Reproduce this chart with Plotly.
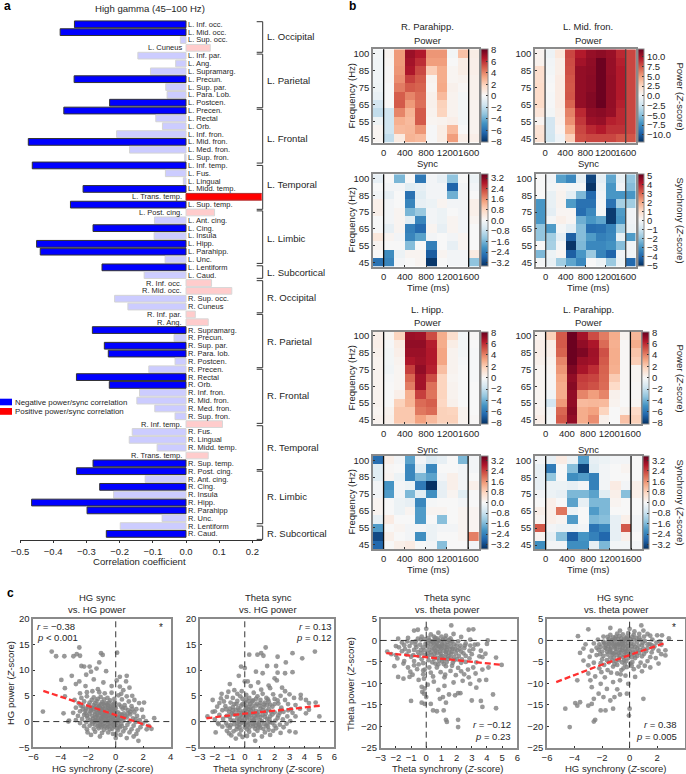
import plotly.graph_objects as go

W, H = 686, 774
FONT = "Liberation Sans"
INK = "#262626"

# ---------- panel a ----------
region_labels = ["L. Inf. occ.","L. Mid. occ.","L. Sup. occ.","L. Cuneus","L. Inf. par.","L. Ang.","L. Supramarg.","L. Precun.","L. Sup. par.","L. Para. Lob.","L. Postcen.",
 "L. Precen.","L. Rectal","L. Orb.","L. Inf. fron.","L. Mid. fron.","L. Med. fron.","L. Sup. fron.","L. Inf. temp.","L. Fus.","L. Lingual","L. Midd. temp.","L. Trans. temp.","L. Sup. temp.",
 "L. Post. cing.","L. Ant. cing.","L. Cing.","L. Insula","L. Hipp.","L. Parahipp.","L. Unc.","L. Lentiform","L. Caud.",
 "R. Inf. occ.","R. Mid. occ.","R. Sup. occ.","R. Cuneus","R. Inf. par.","R. Ang.","R. Supramarg.","R. Precun.","R. Sup. par.","R. Para. lob.","R. Postcen.",
 "R. Precen.","R. Rectal","R. Orb.","R. Inf. fron.","R. Mid. fron.","R. Med. fron.","R. Sup. fron.","R. Inf. temp.","R. Fus.","R. Lingual","R. Midd. temp.","R. Trans. temp.","R. Sup. temp.",
 "R. Post. cing.","R. Ant. cing.","R. Cing.","R. Insula","R. Hipp.","R. Parahipp","R. Unc.","R. Lentiform","R. Caud."]
region_r = [-0.336,-0.379,-0.017,0.073,-0.145,-0.031,-0.107,-0.337,-0.061,-0.057,-0.23,
 -0.368,-0.091,-0.071,-0.209,-0.475,-0.17,-0.004,-0.463,-0.062,-0.008,-0.31,0.264,-0.348,
 0.086,-0.095,-0.28,-0.096,-0.45,-0.439,-0.063,-0.253,-0.126,
 0.077,0.138,-0.215,-0.175,0.028,0.067,-0.282,-0.036,-0.246,-0.234,-0.033,
 -0.112,-0.33,-0.231,-0.14,-0.148,-0.094,-0.033,0.11,-0.162,-0.171,-0.087,0.067,-0.28,
 -0.33,-0.123,-0.26,-0.218,-0.465,-0.298,-0.072,-0.198,-0.24]
region_sig = [1,1,0,0,0,0,0,1,0,0,1, 1,0,0,0,1,0,0,1,0,0,1,1,1, 0,0,1,0,1,1,0,1,0,
 0,0,0,0,0,0,1,0,1,1,0, 0,1,1,0,0,0,0,0,0,0,0,0,1, 1,0,1,0,1,1,0,0,1]
group_names = ["L. Occipital","L. Parietal","L. Frontal","L. Temporal","L. Limbic","L. Subcortical",
               "R. Occipital","R. Parietal","R. Frontal","R. Temporal","R. Limbic","R. Subcortical"]
group_spans = [(-0.33,3.57),(3.8,10.64),(10.84,17.7),(18.0,23.6),(23.8,30.5),(30.8,32.4),
               (32.7,36.8),(37.0,43.8),(44.0,50.9),(51.2,56.8),(57.0,63.7),(64.0,65.7)]
group_label_y = [36.7,80.7,138,184.3,238.7,272.3,297.7,341.3,395.7,447.7,496.7,533.3]
bar_ticks = [-0.5,-0.4,-0.3,-0.2,-0.1,0.0,0.1,0.2]

# ---------- panel b ----------
time_centers = [-100,100,300,500,700,900,1100,1300,1500,1700]
time_ticks = [0,400,800,1200,1600]
freq_rows = list(range(11))
freq_tick_rows = [0,2,4,6,8,10]
freq_tick_text = ["100","85","75","65","55","45"]

r_para_power = [
 [-0.2,0.3,3.5,7,6.5,3.6,3.6,-0.2,2.4,0.6],
 [-0.3,0.2,3.5,6.8,6,3.4,3.4,0,0.6,0.5],
 [-0.3,0.1,3.6,6.6,5.4,2,3,0.2,0.6,0.5],
 [-0.3,0.1,3.8,5.6,5,0.3,3,0.2,0.3,0.4],
 [-0.4,0,4.2,5,4.8,0.2,3.1,0.4,0.1,0.4],
 [-0.6,0,4.9,4,4.6,0.4,2.6,0.3,-0.2,0.4],
 [-1.5,0,5,3.5,4.5,0.4,1.9,0.3,-0.2,0.3],
 [-2,-1.6,4,2.8,5,0.3,1.8,0.3,-0.2,0.3],
 [-0.4,-1.6,2.9,2.6,5,0.2,0.3,0.5,-0.2,0.3],
 [0.2,-1.6,2.6,2.7,3.6,-0.1,0.6,2.6,0,0.3],
 [0.2,-2,0.7,2.8,2.6,-0.1,0.6,3.4,0.5,0.5]]
l_midfron_power = [
 [0.4,-0.6,1.4,8,9.5,10.4,10.7,10.3,9,8],
 [0.5,-0.4,0.8,7.8,10,10.6,11.7,10.4,9.3,8],
 [2,-0.3,0.8,7.7,10.5,10.7,11.7,10.4,9.5,8],
 [2,-0.1,1,7.5,10.5,10.8,11.7,10.5,9.5,8],
 [2.2,0,1,7.4,10.5,10.8,11.7,10.5,9.5,8],
 [2.2,-0.1,1,7.5,10.5,11,11.7,10.5,9.5,8],
 [2.3,-0.1,1,7,10.5,11,11.8,10.5,9.3,8],
 [1.5,-0.3,0.8,6,9,10.6,10.8,10.4,9,8],
 [0.3,-2.2,0.6,5.5,8.5,10.2,10.4,9.3,9,8],
 [1.6,-2.2,0.3,4.4,8,9,9.5,8.7,8.7,8],
 [1.8,-2.3,-0.5,2.8,7.7,8,8,8,7.5,7.5]]
r_para_sync = [
 [-0.3,0,-1.6,0,-2.5,-0.1,-0.3,-1.4,0,-0.2],
 [0,-0.1,-0.1,-0.4,-0.3,-0.1,-0.1,-2.8,-0.1,-0.1],
 [-0.1,-0.3,0,-2.6,-0.4,-0.1,-0.1,-1.7,-0.1,0],
 [0.2,-0.1,0,-2.3,-0.3,-0.2,0.1,-0.1,-0.1,0.2],
 [0.2,-0.1,0.1,-1.6,-1.3,-0.1,-0.2,0,-0.1,0.2],
 [0,-0.1,0.1,-0.4,-2.3,-0.1,-0.2,0.1,-0.1,0.1],
 [0,-0.3,0.1,-2.4,-2.7,0.1,-0.3,0.1,-0.1,0],
 [0.4,0.1,-0.1,-2.3,-1.9,-0.1,0,-0.1,0.1,0],
 [0.1,0,0,-1.5,0,-2.4,0,-0.3,0.1,0],
 [0,-2.2,-0.2,0.1,0.1,-2.9,0.1,-0.1,-0.1,0.3],
 [-2.6,-2.3,-0.1,0,0.1,-3.4,0,-0.1,-0.1,-1.4]]
l_midfron_sync = [
 [0,-0.2,-2.8,-3.3,-0.5,-4.7,-0.5,-2.7,-0.4,-2],
 [0,-0.1,0.1,-0.1,-0.1,-5,-0.3,-3,-0.2,-2.2],
 [0,-0.4,0.2,-0.5,-2.3,-4,-0.2,-3,-3,-3],
 [-3,-0.4,0.2,-2.9,-3.8,-3.8,-0.1,-3.8,-1.7,-1.8],
 [-3,-0.5,0.1,0.1,-3.9,-3.3,-0.1,-4.9,-2.9,-0.2],
 [-3,-0.1,0.3,0.1,-2.5,-3,-2.7,-4.9,-3,-0.2],
 [-2,-2.9,-0.1,-0.5,-2.2,-3.9,-3.8,-3.4,-1.8,-0.3],
 [-2,-1.8,-0.5,-4.2,-2.2,-2.9,-3.5,-3.3,-0.4,-2.9],
 [0,-1.7,-0.1,-5,-2.3,-3.3,-3.3,-3.1,-2.2,-0.2],
 [-2.3,-0.3,0.1,-4.2,-3,-1.9,-3.4,-4.1,-0.2,-0.2],
 [-0.1,-0.4,-1.8,-2.7,-3.3,0,-0.3,-1.9,-0.3,-4]]
l_hipp_power = [
 [0.5,0.2,1.8,7,6.9,5.3,3,1.4,-0.2,0.1],
 [0.5,-0.1,0.7,7.2,7.2,6.4,3,0.6,-0.2,0],
 [0.4,-0.2,0.5,7,7,6.5,3.2,0.3,-0.2,-0.1],
 [0.3,-0.2,0.3,6.6,6.9,6.5,3.2,0.3,-0.1,-0.1],
 [0.3,-0.3,0.2,5.6,7.2,6.3,2.5,0.3,0,-0.1],
 [0.3,-0.1,0.2,4.7,6.8,5.3,1.8,0.2,0,-0.1],
 [0.3,0,0.2,4.2,6.8,4.5,1.8,0.3,0,0],
 [0.3,0,0.5,2.9,5.6,4.4,1.8,0.3,0,0],
 [0.3,0,1.9,2.8,4.6,4.9,1.7,0.4,0,0],
 [0.2,0.3,2.2,2.2,4.3,4.6,1.9,1.8,0.3,0],
 [0.3,0.4,2.2,2.2,3.3,2.6,1.9,1.9,0.3,0.1]]
l_para_power = [
 [0.3,1.9,5,8,6.8,5.3,4.2,3,0.3,2.7],
 [0.5,0.6,5,8,7.2,6.6,4.6,2.9,0.1,3],
 [0.5,0.5,4.8,8,7.6,6.9,5.2,3,0.1,2.3],
 [0.4,0.3,4,8,7,6.8,5,3,0.1,2],
 [0.2,0.2,3.6,7.6,6.7,6,4.8,2.9,0.1,0.2],
 [0.2,0.1,3.2,7.2,5.7,5.5,4.7,2.1,0.1,0.2],
 [0.2,0.1,3,7.4,5.5,5.2,4.6,1.6,0.1,0.1],
 [0.2,-0.3,3,7.2,4,3.4,4,0.4,0,0.1],
 [0.2,-1.5,3.5,7.2,2.6,2.7,2.6,0.3,0,0.2],
 [0.3,-0.3,4.7,7.4,3,3.3,1.8,0,0.3,1.6],
 [0.5,-0.2,5,7.2,3,3.8,0.4,0,2.4,1.9]]
l_hipp_sync = [
 [-2.7,0.2,-0.1,-1.9,-0.1,-0.5,-0.3,0,-1.6,-0.1],
 [-0.4,0.05,0,-2.3,-0.4,-2.3,0,0,-0.1,-0.1],
 [-0.4,0.1,-0.2,-2.3,-1.6,-1.9,-0.1,0.2,-0.1,0],
 [-0.1,-2.1,-0.1,-0.2,-2.5,-3.5,-0.3,0.2,-0.1,0.2],
 [-0.1,-2,-0.1,-1.6,-0.4,-2.2,-0.3,0.1,-0.4,0],
 [0.1,0,-0.2,-0.3,-2.3,-0.05,0,0,-0.1,0],
 [0.1,0,-0.2,0.1,-2,0.1,0.1,0,0.1,0.1],
 [-0.3,0.3,0,0,-2,0,-1.5,0,0.1,0.1],
 [-2,0,0.1,-0.1,-0.1,-0.2,-0.1,-0.1,0.1,0.1],
 [-3.2,0.2,0,-0.1,-2.2,-0.2,0,0,0.1,1.8],
 [-2.8,0,0.2,0.3,0,-0.1,-1.5,0,0,-0.1]]
l_para_sync = [
 [-0.1,-0.3,0.3,-0.2,-2,-0.3,-0.2,-0.1,-0.1,0],
 [-0.3,-2.5,0,-1.5,-3.3,-0.4,-0.1,0,0.1,0],
 [-0.3,-1.4,0,-2.2,-2,-2.4,-0.1,0,0,0],
 [-0.3,-0.2,-0.2,-0.3,-0.1,-2.4,-0.1,0.3,-0.1,0.2],
 [-0.1,-0.2,-0.3,-1.6,-1.6,-1.9,-0.4,0.2,-1.5,0.2],
 [0,0.2,0,-1.9,-0.3,-1.6,-1.6,0.1,0,0],
 [0.2,0.2,1.9,-0.2,0,-2,-1.6,0,0,0],
 [0.1,0.2,0.1,-2,0,-1.6,-1.5,-0.3,0.2,-0.1],
 [2.2,-0.1,-0.2,-0.2,-0.1,-2.6,-2.3,-0.3,2.2,-0.1],
 [0.1,-0.3,-1.5,-2.9,-2.1,-2.4,-2.8,-0.3,0.2,0],
 [-2.2,-0.1,-0.1,-2.2,-2.2,-0.3,-1.6,-0.1,-0.1,-0.1]]

ticks_8 = [-8,-6,-4,-2,0,2,4,6,8]
ticks_10 = [-10,-7.5,-5,-2.5,0,2.5,5,7.5,10]
ticks_32 = [-3.2,-2.4,-1.6,-0.8,0,0.8,1.6,2.4,3.2]
ticks_5 = [-5,-4,-3,-2,-1,0,1,2,3,4,5]

# ---------- panel c ----------
hgsync_hgpower = [(-4.66,13.6),(-4.34,12.7),(-3.74,12.7),(-3.08,12.7),(-2.84,13.1),(-2.65,14.4),(-2.6,12.8),(-1.07,13.3),(-0.95,12.95),(0.1,13.4),
 (-1.2,11.5),(-2.5,10.8),(-2.3,10.7),(-1.9,10.7),(-1.8,9.7),(-2.15,9.1),(-3.2,8.9),(-3.96,8.1),(-2.65,7.8),(-2.9,7.3),(-3.7,6.5),(-3.7,4.9),(-3.8,1.6),(-5.3,1.95),
 (-3.4,0.2),(-3.45,0),(0.3,8.7),(0.8,8.9),(0.75,7.8),(0.07,8),(0.3,6.8),(1.36,4.2),(1.7,3.6),(2.06,3.7),(1.9,2.3),(2.8,0.65),(2.4,-0.85),(2.6,-1.4),(1.65,-3.75),
 (0,-3.2),(0,-2.5),(-1.15,-2.9),(-1.8,-2.6),(-2.05,-2.1),(0.8,-3.2),(1.3,-2.9),(-1.4,10.3),(-0.7,9.8),(-1.6,8.2),(-0.9,7.6),(-2.2,6.9),(-1.3,6.3),(-0.3,6.9),(0.55,6.1),(1,6.6),(0.4,5.4),
 (-2.6,5.5),(-2.1,5.7),(-1.7,5.9),(-1.2,5.7),(-0.8,5.5),(-0.3,5.6),(0.2,5.1),(0.8,4.9),(1.2,5),(-3,4.2),(-2.5,4.6),(-2.1,4.9),(-1.6,4.7),(-1.1,4.8),(-0.6,4.6),(-0.1,4.4),(0.45,4.3),(0.95,3.9),
 (-2.7,3.6),(-2.3,3.9),(-1.9,3.7),(-1.4,4),(-1,3.8),(-0.5,3.7),(-0.15,3.5),(0.25,3.3),(0.65,3.2),(1.15,3),(1.5,2.4),(-2.9,2.7),(-2.4,3),(-2,2.8),(-1.6,3.2),(-1.2,3),(-0.8,3.1),(-0.35,2.9),(0,2.6),(0.5,2.5),(0.9,2.2),(1.35,1.8),
 (-3.1,1.7),(-2.6,2),(-2.2,2.1),(-1.8,2.3),(-1.4,2.2),(-1,2.4),(-0.65,2.2),(-0.2,2),(0.15,1.8),(0.6,1.6),(1.05,1.4),(1.55,1.1),(2,0.9),
 (-2.75,1.1),(-2.3,1.3),(-1.9,1.5),(-1.5,1.4),(-1.15,1.7),(-0.75,1.5),(-0.4,1.3),(-0.05,1.1),(0.35,1),(0.8,0.8),(1.25,0.6),(1.75,0.3),(2.2,0.1),
 (-2.9,0.3),(-2.45,0.5),(-2.05,0.7),(-1.65,0.6),(-1.3,0.8),(-0.95,0.9),(-0.55,0.7),(-0.2,0.5),(0.2,0.3),(0.55,0.2),(1,0),(1.45,-0.1),(1.95,-0.4),
 (-2.6,-0.3),(-2.15,-0.1),(-1.75,0),(-1.4,0.1),(-1.05,-0.1),(-0.7,0),(-0.35,-0.2),(0.05,-0.3),(0.4,-0.4),(0.85,-0.6),(1.3,-0.8),(1.8,-1.1),(2.25,-1.5),
 (-2.3,-0.9),(-1.9,-0.8),(-1.5,-0.6),(-1.15,-0.7),(-0.8,-0.9),(-0.45,-0.8),(-0.1,-1),(0.3,-1.1),(0.7,-1.3),(1.15,-1.5),(1.6,-1.7),(-2.1,-1.5),(-1.6,-1.4),(-1.25,-1.3),(-0.85,-1.6),(-0.4,-1.5),(0.15,-1.7),(0.55,-1.9),(1,-2.1),(1.5,-2.4),
 (-1.5,-2),(-1,-2.2),(-0.55,-2.1),(-0.2,-2.4),(0.35,-2.6),(-0.7,1),(-1,1.2),(-0.3,0.9),(-1.2,2.7),(-0.6,3.3),(-1.5,0.3),(-0.9,-0.4),(-0.1,0.1),(0.45,1.3),(-0.45,2.4),
 (-1.75,4.2),(-1.3,4.4),(-0.85,4.3),(-0.4,4.1),(-1.5,3.6),(-1.05,3.4),(-0.7,3.6),(-0.25,3.2),(-1.75,2.7),(-1.35,2.6),(-0.95,2.7),(-0.55,2.7),(-0.15,2.4),(-1.55,1.9),(-1.2,2),(-0.85,1.9),(-0.45,1.9),(-0.1,1.6),(0.3,1.5),(-1.35,1.2),(-0.85,1.2),(-0.55,1.2),(-0.2,0.8),(0.15,0.7),
 (-1.1,0.4),(-0.75,0.5),(-0.4,0.2),(0,0.1),(-1.2,-0.4),(-0.6,-0.5),(-0.25,-0.6),(0.2,-0.8),(-1.05,-1.1),(-0.65,-1.2),(-0.25,-1.4),(0.1,-1.3),(-1.85,0.3),(-2.1,1.1),(-1.7,-0.4),(0.55,0.7),(0.9,1.6),(-2.4,2.4),(-2.55,3.1),(1.2,2.4),
 (-1.25,3.3),(-0.9,3.5),(-0.55,3.1),(-0.3,2.5),(-0.05,2.9),(-1.45,2.9),(-1.1,2.4),(-0.75,2.5),(-0.35,2.2),(-1.65,2.5),(-1.3,1.6),(-1,1.6),(-0.65,1.6),(-0.3,1.5),(-0.05,2),(-1.7,1.1),(-1.45,0.8),(-1.05,0.7),(-0.85,0.6),(-0.5,0.5),(-0.15,0.3),(0.1,0.9),(0.4,0.6),(-1.55,0),
 (-1.2,0.2),(-0.95,0.1),(-0.55,0),(-0.1,-0.1),(0.25,0.1),(-1.3,-0.9),(-0.95,-0.8),(-0.55,-1),(-0.15,-0.8),(0.45,-0.9),(-1.85,2),(-2.15,2.5),(-1.95,3.2),(-2.2,1.6),(-0.05,3.7),(0.4,2.9),(0.7,2.6),(1.05,1.9),(0.7,1.1),(1.45,0.4)]
thsync_hgpower = [(1.4,14.4),(0.85,13),(0.3,13),(1.1,13.3),(1.25,12.8),(2.2,12.6),(3.2,13.3),(4.7,13.6),(3.85,12.3),(2.75,11.5),(1.5,10.8),(2.1,10.8),(-0.25,10.7),(0,10.4),(3.2,9.6),(2.7,9.4),(1.2,9.4),(0.75,9.7),(2.2,9.5),
 (-0.4,8.9),(2,8.4),(2.15,8),(0,7.8),(0.2,7.8),(-1,7.3),(3.75,5.2),(4.1,4.2),(4.3,3.6),(4.75,3.7),(3.75,4.5),(4.3,2.3),(4.1,1.6),(5,1),(3.4,1),(3,-1.9),(3.4,-2.1),(0.7,-3.75),(-0.6,-3.3),(-1.05,-2.3),(-1.95,-2.1),
 (-1.8,-0.3),(-2.15,1.9),(-2.5,1),(-2.15,4.2),(-1.55,5.4),(-1.6,4.5),(-1.7,3.6),(0.9,7.6),(1.6,7),(0.4,6.9),(1.7,6.5),(2.5,6.6),(2.7,5.9),(1.1,6.2),(-0.7,6.1),(-0.2,5.9),
 (-1.1,5.8),(-0.5,5.4),(0.1,5.2),(0.6,5.6),(1.2,5.4),(1.9,5.3),(2.4,5),(3,5.3),(-1.2,4.8),(-0.8,4.6),(-0.3,4.9),(0.3,4.6),(0.85,4.9),(1.45,4.6),(2,4.4),(2.7,4.2),(3.3,4.6),
 (-1.4,3.9),(-0.95,3.7),(-0.5,4),(0,3.8),(0.5,3.9),(1.05,3.6),(1.6,3.9),(2.25,3.5),(2.9,3.4),(3.4,3.2),(-1.85,2.9),(-1.3,3),(-0.8,2.8),(-0.25,3.1),(0.25,2.9),(0.75,3.1),(1.25,2.8),(1.85,2.9),(2.45,2.7),(3.1,2.4),(3.7,2.5),
 (-2,2),(-1.5,2.2),(-1.05,1.9),(-0.6,2.2),(-0.1,2),(0.4,2.2),(0.95,1.9),(1.45,2.1),(2,1.8),(2.6,1.9),(3.2,1.7),
 (-1.7,1.3),(-1.2,1.1),(-0.75,1.4),(-0.3,1.2),(0.15,1.4),(0.65,1.1),(1.2,1.3),(1.7,1),(2.25,1.2),(2.85,1),(-2,0.4),(-1.45,0.5),(-0.95,0.3),(-0.5,0.6),(0,0.4),(0.5,0.6),(1,0.3),(1.5,0.5),(2.05,0.2),(2.55,0.4),(3.05,0.1),
 (-1.75,-0.5),(-1.25,-0.3),(-0.7,-0.5),(-0.2,-0.2),(0.3,-0.4),(0.8,-0.2),(1.3,-0.5),(1.85,-0.3),(2.35,-0.6),(2.8,-0.4),(-1.5,-1),(-1,-1.2),(-0.5,-1),(0,-1.1),(0.55,-0.9),(1.05,-1.2),(1.55,-1),(2.1,-1.3),(2.6,-1.1),
 (-1.2,-1.8),(-0.75,-1.9),(-0.25,-1.7),(0.3,-2),(0.85,-1.8),(1.35,-2.1),(1.9,-1.8),(2.4,-2.2),(-0.9,-2.7),(-0.35,-2.5),(0.15,-2.8),(0.6,-2.6),(1.15,-2.9),(1.7,-2.6),(-0.15,-3),(0.35,1.6),(-0.4,0),(0.1,2.6),(-0.55,3.4),(1.3,3.3),(0.6,0),(1.7,-0.1),(-1,2.5),(0.8,1.5),(0,-0.5),
 (-0.7,3.4),(-0.15,3.4),(0.35,3.4),(0.8,3.5),(1.35,3.7),(-0.45,2.6),(0.05,2.3),(0.55,2.5),(1.05,2.5),(1.6,2.4),(-0.85,1.6),(-0.4,1.7),(0.15,1.9),(0.6,1.7),(1.05,0.9),(-0.2,0.8),(0.25,0.9),(0.75,0.7),(1.4,1.5),(-0.75,0.2),(-0.15,0.1),(0.35,0.1),(0.95,-0.4),(1.55,-0.3),
 (-0.95,-0.7),(-0.35,-0.6),(0.2,-0.7),(0.75,-0.8),(1.25,-1.4),(-0.55,-1.5),(0.15,-1.5),(0.7,-1.4),(1.6,-1.6),(0.25,3.9),(0.75,4.4),(1.55,4.3),(-0.15,4.4),
 (0.05,3.1),(0.5,3.1),(1,3.1),(1.5,3.2),(2,3.4),(0.05,1.1),(0.4,1.3),(0.9,1.2),(1.35,0.9),(1.85,1.4),(2.35,1.7),(-0.6,1.3),(-0.15,1.6),(0.3,2.4),(0.75,2.1),(1.2,2.2),(1.75,1.9),(-1,0.9),(-0.35,0.4),(0.15,0.7),(0.6,0.3),(1.15,0.1),(1.65,0.4),(2.2,0.7),
 (-1.15,-0.8),(-0.35,-1.1),(0.3,-1.2),(0.9,-1.1),(1.45,-0.8),(2,-0.8),(-0.5,-0.3),(0.1,-0.2),(0.55,-0.5),(1,-0.7),(-1.25,2.4),(-0.8,2.2),(-0.35,2.3),(2.4,2.2),(2.9,2.2),(0.55,4.1),(1.05,4.2),(1.7,3.3),(2.2,4.1),(0.1,4.3)]
thsync_thpower = [(-2.57,-2.6),(-1,-14.1),(-0.3,-14.5),(-0.1,-14.8),(-0.26,-12),(-0.15,-12.4),(0,-13.2),(0.3,-14.8),(0.45,-16.3),(0.7,-16.5),(0.9,-13.6),(1.1,-13.2),(1.3,-14.5),(1.15,-16.3),(1.3,-18.5),(1.36,-19),(2.1,-18.5),(2.1,-20.2),
 (1.9,-12.8),(2.1,-12.3),(2.25,-12.3),(3.6,-14.1),(3.7,-15.5),(4.4,-12.6),(4.6,-15.8),(3,-14),(1.5,-12.6),(4.05,0),(4,-0.8),(2.8,2.5),(3.1,2.6),(1.65,3.5),(0,2.7),(-0.8,2.3),(-0.55,2.5),(4.6,-4),(4.97,-5.7),(3.95,-9.2),(3.5,-9.3),(3.7,-3.9),
 (-1.85,-8.5),(-1.5,-8.9),(-1.1,-8.5),(-2.1,-6),(-1.5,-5.4),(-1.85,0.4),(-0.5,-9.2),(0.1,-10.3),(-0.3,-10.8),(0.5,-9.6),(1.2,-10.6),(1.8,-9.8),(2.4,-9.4),(2.9,-10.1),(3.3,-11),(0.8,-11.5),(-0.1,-11.2),
 (-2.3,-3.2),(-2,-1.3),(-1.6,-0.5),(-1.2,0.6),(-1.6,-2.5),(-1.1,-1.3),(-0.7,-0.2),(-0.3,0.9),(0.3,1.4),(0.8,1.8),(1.3,1.1),(1.8,1.5),(2.3,0.8),(2.9,0.2),(3.4,-0.9),
 (-1.9,-4.2),(-1.3,-3.3),(-0.8,-2.2),(-0.4,-1),(0.2,0),(0.6,0.6),(1.1,0.2),(1.6,0.5),(2.1,-0.2),(2.6,-0.7),(3.1,-2),(3.6,-2.4),(-1.2,-6.3),(-0.8,-4.8),(-0.5,-3.6),(-0.1,-2.3),(0.3,-0.9),(0.7,-0.4),(1.2,-0.7),(1.6,-0.6),(2,-1.2),(2.5,-1.8),(3,-3.2),(3.5,-3.7),
 (-0.6,-6.7),(-0.2,-5.3),(0.1,-3.7),(0.5,-2),(0.85,-1.4),(1.25,-1.7),(1.65,-1.5),(2.05,-2.3),(2.45,-3),(2.85,-4.2),(3.3,-5.1),(-0.9,-8),(-0.2,-7.9),(0.2,-6.3),(0.55,-3.9),(0.9,-2.6),(1.3,-2.7),(1.7,-2.6),(2.15,-3.6),(2.6,-5),(3.1,-6.3),(3.7,-6.8),
 (0.45,-8.4),(0.8,-5.6),(1.05,-3.6),(1.45,-3.7),(1.85,-3.9),(2.3,-5.2),(2.75,-6.8),(3.25,-7.7),(0.95,-7.4),(1.35,-5),(1.75,-5.2),(2.1,-6.4),(2.5,-7.9),(1.2,-8.6),(1.6,-7.1),(1.95,-8.1),(-1.4,-2),(-1,-3.8),(-0.3,-4.4),(0.3,-2.8),(0.65,-1.3),(1,-1.9),(1.4,-0.3),(0.1,-1.4),(-0.7,-1),(-1.8,-1.6),(-2,-3.4),(-0.35,0.2),(0.7,-3),(1.15,-4.4),(2.55,-1.2),(3.9,-3.1),(-1.05,-7.3),(-0.15,-8.9),(2.8,-8.6),(4.1,-6.3),
 (0.75,-1),(1.05,-0.9),(1.4,-1.1),(0.45,-0.5),(0.95,-0.2),(1.5,0.1),(0.6,-2.4),(0.95,-3.1),(1.3,-3.2),(1.65,-3.1),(0.35,-3.4),(0.75,-4.1),(1.05,-4.9),(1.45,-4.3),(1.85,-4.6),(0.4,-5.1),(0.7,-6.3),(1.3,-6),(1.7,-5.9),(2.35,-4.4),(0.1,-0.5),(-0.2,-1.6),(-0.55,-2.7),(-0.85,-3.4),(-1.15,-2.5),(-1.45,-1.1),
 (1.85,-0.9),(2.25,-1.2),(2.3,-2.6),(1.95,-3),(0.15,-4.6),(-0.1,-6.8),(-0.5,-5.6),(2.9,-1.2),(1.55,-2),(1.05,-1.2),(0.5,0.9),(1,0.9),(-0.1,0.3),(1.25,-8),(2.3,-7.2),
 (0.8,0),(1.25,0.4),(0.55,-1),(0.95,-1.6),(1.35,-2.2),(1.75,-1.9),(0.4,-1.7),(0.75,-2),(1.15,-2.4),(1.5,-2.9),(0.2,-2.2),(0.55,-3),(0.95,-3.7),(1.25,-4),(0.1,-3),(0.5,-4.3),(0.85,-4.7),(-0.05,-3.4),(-0.35,-2.2),(-0.65,-1.6),(0.15,0.6),(0.55,0),(1.7,-0.2),(2.2,-1.9),
 (-0.95,-0.5),(-1.25,-0.2),(-0.55,0.4),(-0.05,-0.8),(0.35,-0.2),(0.75,0.4),(1.35,-1.5),(1.9,-2),(1.6,-4),(1.15,-5.5),(0.6,-5.4),(2.05,-4.4),(2.6,-3.6),(2.85,-2.4),(-0.3,-3),(-0.8,-5.8),(-1.45,-4.8),(-0.2,-7),(3.2,-1),(0.3,-7.5)]
hgsync_thpower = [(-3,2.6),(-3.75,1),(-3.35,-1.9),(-3.2,-0.9),(-3.35,-4.7),(-3,-5.8),(-4.67,-15.9),(-4.35,-20.2),(-3.95,-14.6),(-3.8,-15.2),(-3.6,-14.4),(-3,-15.2),(-2.6,-18.9),(-2.5,-18.5),(-2.75,-14.8),(-2.1,-16.3),(-1.75,-16.3),(-1.9,-13.2),(-1.2,-15.9),(-0.7,-12.6),(-0.2,-12.4),
 (0,-15.9),(-0.05,-17.5),(1,-13.6),(2.85,0.5),(2.6,-3.5),(2.6,-2.3),(0.85,3.5),(0,2.7),(-0.7,2.3),(-1.4,2.9),(1,2.3),(2,1.2),(2.35,1.2),(-3.8,-9.3),(-2.85,-9.3),(-2.75,-10.9),(-2.6,-13.6),(-2.25,-12.4),(-1.65,-11.3),(-0.9,-11.4),(-1.1,-13.2),(-1.4,-14),(-0.7,-9.3),(-0.1,-10.1),(-2.1,-10.1),
 (-3,-7.7),(-2.5,-8.4),(-1.8,-8.6),(-1.2,-9.7),(-0.3,-8.2),(0.4,-8.5),(0.9,-7.2),(1.5,-6.3),(2.1,-5.4),(-2.6,-5.2),(-2.2,-6.5),(-1.6,-6.9),(-0.9,-7.7),(-0.2,-6.2),(0.3,-6.7),(0.8,-5.2),(1.3,-4.8),(1.9,-4.1),(2.3,-3.2),
 (-2.4,-3.4),(-2.75,-2.4),(-2,-4.4),(-1.5,-5.1),(-0.9,-5.7),(-0.4,-4.6),(0.2,-5),(0.55,-3.6),(1.05,-3.1),(1.6,-2.8),(2.1,-2.4),(-2.4,-1.7),(-2,-2.6),(-1.6,-3.3),(-1.15,-4),(-0.7,-3.6),(-0.2,-3.2),(0.25,-2.9),(0.75,-2.2),(1.3,-1.8),(1.8,-1.4),(2.3,-1),
 (-2.6,-0.7),(-2.2,-0.9),(-1.8,-1.7),(-1.4,-2.1),(-1,-2.7),(-0.55,-2.3),(-0.1,-1.9),(0.4,-1.5),(0.9,-1.1),(1.45,-0.8),(1.95,-0.5),(-2.3,0.2),(-1.9,-0.3),(-1.5,-0.8),(-1.1,-1.4),(-0.7,-1.5),(-0.3,-1),(0.1,-0.7),(0.55,-0.3),(1.1,-0.1),(1.65,0.2),(2.2,-0.2),
 (-1.9,0.9),(-1.5,0.3),(-1.1,-0.2),(-0.75,-0.6),(-0.35,-0.1),(0.05,0.3),(0.5,0.6),(1.05,0.9),(1.5,1.1),(-1.4,1.3),(-1,0.9),(-0.6,0.5),(-0.2,0.9),(0.3,1.3),(0.7,1.5),(1.3,1.5),(-0.9,1.6),(-0.5,1.4),(-0.1,1.7),(0.35,2.1),(-1.25,-3.3),(-0.8,-4.6),(-0.35,-5.6),(-1.55,-1.4),(-1.3,-0.7),(-0.5,-1.7),(-0.95,-2),(-0.25,-2.5),(0.15,-3.9),(0.65,-1.2),(-1.85,-5.7),(-1.35,-7.5),(-0.6,-6.9),(1.5,-3.9),(-2.9,-3.8),(-3.6,-2.9),
 (-1.6,0.8),(-1.25,0.1),(-0.9,-0.8),(-0.55,-0.2),(-0.15,0.2),(0.3,0.2),(-1.75,-1),(-1.35,-1.7),(-1,-1.1),(-0.65,-2.8),(-0.3,-2),(0.15,-1.4),(0.55,-1.9),(-1.65,-2.6),(-1.3,-2.8),(-0.95,-3.4),(-0.45,-3.9),(0,-2.6),(0.45,-2.6),(1,-1.9),(-1.9,-3.6),(-1.4,-4),(-1,-4.8),(-0.55,-5.1),(-0.1,-4.1),(0.4,-4.1),
 (0.9,-3.7),(-2.1,-1.5),(-2.25,-2.2),(-1.05,0.4),(-0.4,0.4),(0.8,0.1),(1.3,-0.9),(0.05,-5.4),(0.65,-6.1),(-1.2,-6.1),(-0.65,-7.9),(1.1,-5.9),(-2.05,-7.4),(1.7,-1.9),
 (-1.2,-0.9),(-0.8,-1),(-0.45,-1.2),(-0.1,-0.6),(0.3,-0.9),(-1.55,-0.3),(-1.2,0.7),(-0.85,0.3),(-0.5,-0.6),(-0.15,-1.4),(0.2,-2.1),(-1.05,-1.9),(-0.7,-2.2),(-0.35,-2.7),(0,-3.3),(-1.45,-2.6),(-1.15,-3),(-0.8,-3),(-0.4,-3.4),(-1.7,-1.9),(-1.85,-0.7),(-0.75,1),(-0.25,0.5),(0.2,0.8),
 (0.7,0.6),(-1.25,-4.7),(-0.75,-4.1),(-0.25,-4.8),(0.35,-3.4),(0.7,-2.9),(1.2,-2.5),(-1.65,-4.6),(-2.15,-3.2),(-2.1,-5.3),(-1.1,-5.5),(-0.45,-6.5),(0.15,-5.9),(1.6,-1.1),(0.95,-0.6),(-0.6,-0.9)]
trend_hg_hg_x = [-5.27,-3.09,0,2.74]
trend_hg_hg_y = [5.96,4.0,1.3,-1.17]
trend_th_hg_x = [-2.57,0,2.97,5.09]
trend_th_hg_y = [0.65,1.55,2.4,3.1]
trend_th_th_x = [-2.63,0,2.63,4.93]
trend_th_th_y = [-2.95,-3.9,-4.8,-5.67]
trend_hg_th_x = [-5.33,-2.37,0,2.6]
trend_hg_th_y = [-9.7,-6.06,-3.4,-0.55]

# ---------- helpers ----------
def fx(px): return px / W
def fy(py): return 1 - py / H

annotations, shapes, traces = [], [], []
layout = {}
axis_n = [0]

def txt(px, py, text, size=9.5, anchor="center", angle=0, bold=False, color=INK):
    annotations.append(dict(x=fx(px), y=fy(py), xref="paper", yref="paper", text=f"<b>{text}</b>" if bold else text,
        showarrow=False, xanchor=anchor, yanchor="middle", textangle=angle,
        font=dict(family=FONT, size=size, color=color), borderpad=0, borderwidth=0))

def new_axes(left, right, top, bottom, xopt, yopt):
    axis_n[0] += 1
    n = axis_n[0]
    s = "" if n == 1 else str(n)
    layout[f"xaxis{s}"] = dict(domain=[fx(left), fx(right)], anchor=f"y{s}", **xopt)
    layout[f"yaxis{s}"] = dict(domain=[fy(bottom), fy(top)], anchor=f"x{s}", **yopt)
    return f"x{s}", f"y{s}"

tickfont = dict(family=FONT, size=9.5, color=INK)

# ---------- draw a ----------
px_per_unit = 332.0
zero_px = 186.0
row0, row_h = 24.3, 7.84
bar_left, bar_right, bar_top, bar_bottom = 19.9, 261.7, 20.0, 540.3
xa, ya = new_axes(bar_left, bar_right, bar_top, bar_bottom,
    dict(range=[(bar_left-zero_px)/px_per_unit, (bar_right-zero_px)/px_per_unit],
         tickmode="array", tickvals=bar_ticks, ticktext=[f"{v:.1f}".replace("-", "\u2212") for v in bar_ticks],
         ticks="outside", ticklen=2, tickcolor="#333", showline=True, linecolor="#333", linewidth=1, showgrid=False, zeroline=False, tickfont=tickfont, tickangle=0),
    dict(range=[(bar_bottom-row0)/row_h, (bar_top-row0)/row_h], visible=False, showgrid=False, zeroline=False))
rows = list(range(len(region_labels)))
fill = []
edge = []
for r, s in zip(region_r, region_sig):
    if r < 0:
        fill.append("#0000ff" if s else "#ccccff"); edge.append("#333333" if s else "#d4d4d4")
    else:
        fill.append("#ff0000" if s else "#ffcccc"); edge.append("#b03030" if s else "#d8d8d8")
traces.append(go.Bar(x=region_r, y=rows, orientation="h", width=0.86, marker=dict(color=fill, line=dict(color=edge, width=1)),
                     cliponaxis=False, xaxis=xa, yaxis=ya, showlegend=False))
for i, (lab, r) in enumerate(zip(region_labels, region_r)):
    py = row0 + row_h * i
    if r < 0:
        txt(zero_px + 1.5, py, lab, 7.5, "left")
    else:
        txt(zero_px - 4, py, lab, 7.5, "right")
for (a, b), name, ly in zip(group_spans, group_names, group_label_y):
    for path in ([(256.7, a), (262.7, a)], [(262.7, a), (262.7, b)], [(262.7, b), (256.7, b)]):
        shapes.append(dict(type="line", xref="paper", yref=ya, x0=fx(path[0][0]), x1=fx(path[1][0]), y0=path[0][1], y1=path[1][1],
                           line=dict(color="#333", width=1)))
    txt(266.7, ly, name, 9.6, "left")
txt(150, 8.7, "High gamma (45\u2013100 Hz)", 9.6)
txt(139, 561, "Correlation coefficient", 9.6)
txt(4, 6.5, "a", 12, "left", bold=True, color="#000")
txt(349, 6.5, "b", 12, "left", bold=True, color="#000")
txt(7, 593, "c", 12, "left", bold=True, color="#000")
for py0, py1, c, t in [(398.7, 405.3, "#0000ff", "Negative power/sync correlation"), (408.0, 414.8, "#ff0000", "Positive power/sync correlation")]:
    shapes.append(dict(type="rect", xref="paper", yref="paper", x0=0, x1=fx(12), y0=fy(py1), y1=fy(py0), fillcolor=c, line=dict(width=0)))
    txt(15, (py0+py1)/2, t, 7.9, "left")

# ---------- draw b ----------
scale = [[0,"#053061"],[0.1,"#2166ac"],[0.2,"#4393c3"],[0.3,"#92c5de"],[0.4,"#d1e5f0"],[0.5,"#f7f7f7"],
         [0.6,"#fddbc7"],[0.7,"#f4a582"],[0.8,"#d6604d"],[0.9,"#b2182b"],[1,"#67001f"]]

def heat(z, left, right, top, bottom, cb_left, cb_right, zlim, cticks, cfmt, line_col):
    xa, ya = new_axes(left, right, top, bottom,
        dict(range=[-200,1800], tickmode="array", tickvals=time_ticks, ticktext=[str(t) for t in time_ticks], ticks="inside", ticklen=2, tickcolor="#333",
             showline=True, linecolor="#8a8a8a", linewidth=1.5, mirror=True, showgrid=False, zeroline=False, tickfont=tickfont, tickangle=0),
        dict(range=[10.5,-0.5], tickmode="array", tickvals=freq_tick_rows, ticktext=freq_tick_text, ticks="inside", ticklen=2, tickcolor="#333",
             showline=True, linecolor="#8a8a8a", linewidth=1.5, mirror=True, showgrid=False, zeroline=False, tickfont=tickfont))
    traces.append(go.Heatmap(z=z, x=time_centers, y=freq_rows, xaxis=xa, yaxis=ya, zmin=-zlim, zmax=zlim, colorscale=scale, xgap=0, ygap=0,
        colorbar=dict(x=fx(cb_left), xanchor="left", y=fy(top), yanchor="top", len=(bottom-top)/H, lenmode="fraction", thickness=cb_right-cb_left, thicknessmode="pixels",
                      xpad=0, ypad=0, outlinecolor="#8a8a8a", outlinewidth=1, ticks="inside", ticklen=2, tickcolor="#333", tickmode="array", tickvals=cticks,
                      ticktext=[cfmt(v).replace("-", "\u2212") for v in cticks], tickfont=tickfont)))
    for t in (0, 1600):
        shapes.append(dict(type="line", xref=xa, yref=f"{ya} domain", x0=t, x1=t, y0=0, y1=1, line=dict(color=line_col, width=1.3), layer="above"))

f1 = lambda v: f"{v:.1f}"
fi = lambda v: f"{v:.0f}"
heat(r_para_power, 373,479.3, 49.3,142.7, 481,487.7, 8.1, ticks_8, fi, "#111")
heat(l_midfron_power, 535,635.8, 49.3,142.7, 638.3,644, 11.9, ticks_10, f1, "#444")
heat(r_para_sync, 373,479.3, 174.3,266.7, 481,487.7, 3.48, ticks_32, f1, "#111")
heat(l_midfron_sync, 535.7,635.7, 174.3,266.7, 637.7,643.3, 5.1, ticks_5, fi, "#444")
heat(l_hipp_power, 373,479.3, 331.7,424, 481,487.7, 8.1, ticks_8, fi, "#111")
heat(l_para_power, 535,641, 331.7,424, 642.3,649, 8.1, ticks_8, fi, "#111")
heat(l_hipp_sync, 373,478.7, 456,549, 481,487.7, 3.53, ticks_32, f1, "#111")
heat(l_para_sync, 535,641.7, 456,549.3, 643,649, 3.53, ticks_32, f1, "#111")

cx1, cx2 = 427.7, 588.3
txt(cx1, 26, "R. Parahipp."); txt(cx2, 26, "L. Mid. fron.")
txt(cx1, 40, "Power"); txt(cx2, 40, "Power")
txt(cx1, 163.7, "Sync"); txt(cx2, 163.7, "Sync")
txt(cx1, 287.7, "Time (ms)"); txt(cx2, 287.7, "Time (ms)")
txt(cx1, 309.3, "L. Hipp."); txt(cx2, 309.3, "L. Parahipp.")
txt(cx1, 322.3, "Power"); txt(cx2, 322.3, "Power")
txt(cx1, 449, "Sync"); txt(cx2, 449, "Sync")
txt(cx1, 569.3, "Time (ms)"); txt(cx2, 569.3, "Time (ms)")
for yc in (96, 220, 378, 502):
    txt(350.5, yc, "Frequency (Hz)", 9.5, angle=-90)
txt(680.5, 96, "Power (<i>Z</i>-score)", 9.5, angle=90)
txt(680.5, 220, "Synchrony (<i>Z</i>-score)", 9.5, angle=90)
txt(680.5, 378, "Power (<i>Z</i>-score)", 9.5, angle=90)
txt(680.5, 502, "Synchrony (<i>Z</i>-score)", 9.5, angle=90)

# ---------- draw c ----------
def scatter(pts, tx, ty, left, right, top, bottom, xr, yr, xt, yt):
    xa, ya = new_axes(left, right, top, bottom,
        dict(range=xr, tickmode="array", tickvals=xt, ticktext=[str(v).replace("-", "\u2212") for v in xt], ticks="inside", ticklen=2, tickcolor="#333",
             showline=True, linecolor="#8a8a8a", linewidth=1.5, mirror=True, showgrid=False, zeroline=False, tickfont=tickfont, tickangle=0),
        dict(range=yr, tickmode="array", tickvals=yt, ticktext=[str(v).replace("-", "\u2212") for v in yt], ticks="inside", ticklen=2, tickcolor="#333",
             showline=True, linecolor="#8a8a8a", linewidth=1.5, mirror=True, showgrid=False, zeroline=False, tickfont=tickfont))
    traces.append(go.Scatter(x=[p[0] for p in pts], y=[p[1] for p in pts], mode="markers", xaxis=xa, yaxis=ya, showlegend=False,
                             marker=dict(size=4.8, color="#808080", opacity=0.8, line=dict(width=0))))
    traces.append(go.Scatter(x=xr, y=[0,0], mode="lines", xaxis=xa, yaxis=ya, showlegend=False, line=dict(color="#333", width=1, dash="6px,4px")))
    traces.append(go.Scatter(x=[0,0], y=yr, mode="lines", xaxis=xa, yaxis=ya, showlegend=False, line=dict(color="#333", width=1, dash="6px,4px")))
    traces.append(go.Scatter(x=tx, y=ty, mode="lines", xaxis=xa, yaxis=ya, showlegend=False, line=dict(color="#ff3030", width=2.3, dash="6px,3px")))

yt_hg = [-5,0,5,10,15,20]
yt_th = [-25,-20,-15,-10,-5,0,5]
scatter(hgsync_hgpower, trend_hg_hg_x, trend_hg_hg_y, 33.3,170.7, 618.7,747.3, [-6,4], [-5,20], [-6,-4,-2,0,2,4], yt_hg)
scatter(thsync_hgpower, trend_th_hg_x, trend_th_hg_y, 200,334.3, 618.7,747.3, [-3,6], [-5,20], [-3,-2,-1,0,1,2,3,4,5,6], yt_hg)
scatter(thsync_thpower, trend_th_th_x, trend_th_th_y, 380.7,517.3, 619,747.7, [-3,6], [-25,5], [-3,-2,-1,0,1,2,3,4,5,6], yt_th)
scatter(hgsync_thpower, trend_hg_th_x, trend_hg_th_y, 547,684.7, 619,747.7, [-6,4], [-25,5], [-6,-4,-2,0,2,4], yt_th)

for cx, a, b, xl in [(97.3,"HG sync","vs. HG power","HG synchrony (<i>Z</i>-score)"),(268,"Theta sync","vs. HG power","Theta synchrony (<i>Z</i>-score)"),
                     (447.3,"Theta sync","vs. theta power","Theta synchrony (<i>Z</i>-score)"),(615.7,"HG sync","vs. theta power","HG synchrony (<i>Z</i>-score)")]:
    txt(cx, 597.3, a); txt(cx, 609, b)
    txt(cx + (5 if cx < 100 else 0), 768.5, xl)
txt(10, 683, "HG power (<i>Z</i>-score)", 9.5, angle=-90)
txt(350, 684, "Theta power (<i>Z</i>-score)", 9.5, angle=-90)
txt(36.7, 626, "<i>r</i> = \u22120.38", 9.5, "left")
txt(36.7, 637.3, "<i>p</i> &lt; 0.001", 9.5, "left")
txt(161, 627.5, "*", 10)
txt(332.3, 626, "<i>r</i> = 0.13", 9.5, "right")
txt(332.3, 637.3, "<i>p</i> = 0.12", 9.5, "right")
txt(510.7, 724.3, "<i>r</i> = \u22120.12", 9.5, "right")
txt(510.7, 736, "<i>p</i> = 0.23", 9.5, "right")
txt(677.3, 724.3, "<i>r</i> = 0.38", 9.5, "right")
txt(677.3, 736, "<i>p</i> = 0.005", 9.5, "right")
txt(673.7, 627.5, "*", 10)

fig = go.Figure(data=traces)
fig.update_layout(width=W, height=H, margin=dict(l=0, r=0, t=0, b=0, autoexpand=False), paper_bgcolor="white", plot_bgcolor="white",
                  showlegend=False, font=dict(family=FONT, size=9.5, color=INK), annotations=annotations, shapes=shapes, barmode="overlay", **layout)
fig.write_html("out.html", config={"displayModeBar": False}, post_script="document.body.style.margin='0';document.documentElement.style.overflow='hidden';")
